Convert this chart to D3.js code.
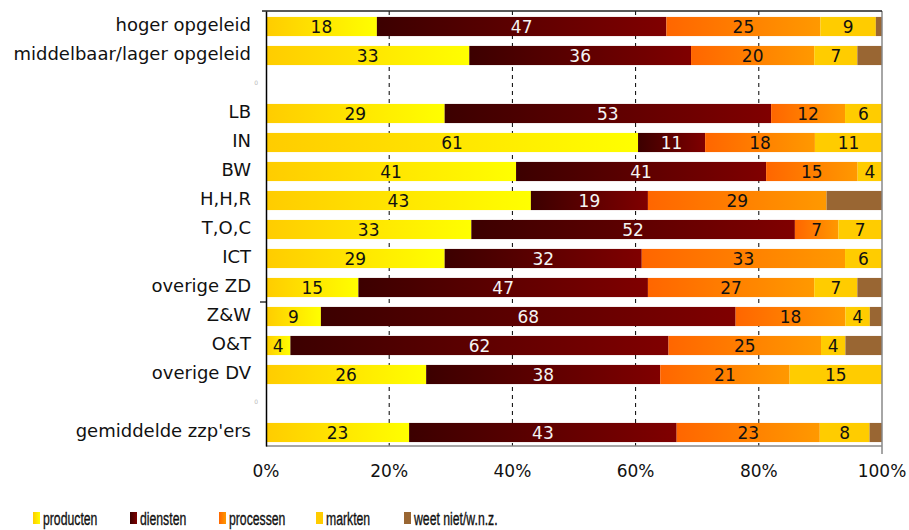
<!DOCTYPE html>
<html lang="nl">
<head>
<meta charset="UTF-8">
<script src="https://cdn.jsdelivr.net/npm/d3@7"></script>
<style>
  body { margin: 0; background: #fff; }
  svg { display: block; }
</style>
</head>
<body>
<svg id="chart" width="909" height="530"></svg>
<script>
// data
const categories = ["hoger opgeleid", "middelbaar/lager opgeleid", "0",
  "LB", "IN", "BW", "H,H,R", "T,O,C", "ICT", "overige ZD",
  "Z&W", "O&T", "overige DV", "0 ", "gemiddelde zzp'ers"];
const blanks = ["0", "0 "];
const seriesNames = ["producten", "diensten", "processen", "markten", "weet niet/w.n.z."];
const producten = [18, 33, 0, 29, 61, 41, 43, 33, 29, 15, 9, 4, 26, 0, 23];
const diensten  = [47, 36, 0, 53, 11, 41, 19, 52, 32, 47, 68, 62, 38, 0, 43];
const processen = [25, 20, 0, 12, 18, 15, 29, 7, 33, 27, 18, 25, 21, 0, 23];
const markten   = [9, 7, 0, 6, 11, 4, 0, 7, 6, 7, 4, 4, 15, 0, 8];
const weetNiet  = [1, 4, 0, 0, 0, 0, 9, 0, 0, 4, 2, 6, 0, 0, 2];
const xTicks = [0, 20, 40, 60, 80, 100];

const series = [producten, diensten, processen, markten, weetNiet];
const keys = ["p", "d", "r", "m", "w"];

const rows = categories.map((c, i) => {
  const r = { cat: c };
  keys.forEach((k, j) => r[k] = series[j][i]);
  const tot = d3.sum(keys, k => r[k]);
  r.tot = tot || 1;
  return r;
});

const svg = d3.select("#chart");
const m = { l: 266, r: 882, t: 11, b: 446 };
const font = "Verdana, 'DejaVu Sans', sans-serif";

const x = d3.scaleLinear().domain([0, 100]).range([m.l, m.r]);
const y = d3.scaleBand().domain(categories).range([m.t, m.b]).paddingInner(0.34).paddingOuter(0.17);

// gradients
const defs = svg.append("defs");
const grads = [
  ["g-p", "#ffcc00", "#ffff00"],
  ["g-d", "#3c0000", "#800000"],
  ["g-r", "#ff6600", "#ff9900"],
  ["g-m", "#ffcc00", "#ffcc00"],
  ["g-w", "#996633", "#996633"]
];
grads.forEach(g => {
  const lg = defs.append("linearGradient").attr("id", g[0])
    .attr("x1", "0%").attr("x2", "100%").attr("y1", "0%").attr("y2", "0%");
  lg.append("stop").attr("offset", "0%").attr("stop-color", g[1]);
  lg.append("stop").attr("offset", "100%").attr("stop-color", g[2]);
});

// grid
svg.append("g").selectAll("line").data(xTicks.slice(1, -1)).join("line")
  .attr("x1", d => x(d)).attr("x2", d => x(d))
  .attr("y1", m.t).attr("y2", m.b)
  .attr("stroke", "#000").attr("stroke-width", 1)
  .attr("stroke-dasharray", "4,4");

// stacked bars (normalised to 100%)
const stack = d3.stack().keys(keys).value((d, k) => d[k] / d.tot * 100);
const stacked = stack(rows.filter(r => !blanks.includes(r.cat)));

const layer = svg.append("g").selectAll("g").data(stacked).join("g")
  .attr("fill", (d, i) => `url(#${grads[i][0]})`);

layer.selectAll("rect").data(d => d).join("rect")
  .attr("x", d => x(d[0]))
  .attr("width", d => Math.max(0, x(d[1]) - x(d[0])))
  .attr("y", d => y(d.data.cat) + 1)
  .attr("height", y.bandwidth());

// value labels
const lbl = svg.append("g")
  .attr("font-family", font)
  .attr("font-size", 17)
  .attr("text-anchor", "middle");
stacked.forEach((s, i) => {
  if (keys[i] === "w") return;
  lbl.selectAll(null).data(s.filter(d => d.data[keys[i]] > 0)).join("text")
    .attr("x", d => (x(d[0]) + x(d[1])) / 2)
    .attr("y", d => y(d.data.cat) + 1 + y.bandwidth() / 2)
    .attr("dy", "0.37em")
    .attr("fill", keys[i] === "d" ? "#f4f4f4" : "#111")
    .text(d => d.data[keys[i]]);
});

// frame
svg.append("line").attr("x1", m.r).attr("x2", m.r).attr("y1", m.t).attr("y2", m.b + 8)
  .attr("stroke", "#888").attr("stroke-width", 1.5);
svg.append("line").attr("x1", m.l).attr("x2", m.r).attr("y1", m.b).attr("y2", m.b)
  .attr("stroke", "#888").attr("stroke-width", 1.5);
svg.append("line").attr("x1", m.l - 4).attr("x2", m.r).attr("y1", m.t).attr("y2", m.t)
  .attr("stroke", "#222").attr("stroke-width", 1.5);

// y axis
const yAxis = svg.append("g").attr("transform", `translate(${m.l},0)`)
  .call(d3.axisLeft(y).tickSize(0).tickPadding(15));
yAxis.select(".domain").attr("stroke", "#000").attr("stroke-width", 1.5);
yAxis.selectAll("text")
  .attr("font-family", font)
  .attr("font-size", 18).attr("fill", "#111")
  .filter(d => blanks.includes(d))
  .attr("font-size", 6).attr("fill", "#bbb").attr("dx", 7).text("0");
// group separator tick
const sepY = (y("overige ZD") + y.bandwidth() + y("Z&W")) / 2 + 1;
svg.append("line").attr("x1", m.l - 6).attr("x2", m.l).attr("y1", sepY).attr("y2", sepY)
  .attr("stroke", "#000").attr("stroke-width", 1.2);

// x axis labels
svg.append("g").selectAll("text").data(xTicks).join("text")
  .attr("x", d => x(d)).attr("y", 477)
  .attr("text-anchor", "middle")
  .attr("font-family", font)
  .attr("font-size", 17).attr("fill", "#111")
  .text(d => d + "%");

// legend
const legX = [33, 130, 219, 316, 404];
const leg = svg.append("g").selectAll("g").data(seriesNames).join("g")
  .attr("transform", (d, i) => `translate(${legX[i]},512)`);
leg.append("rect").attr("width", 7).attr("height", 12)
  .attr("fill", (d, i) => `url(#${grads[i][0]})`);
leg.append("text")
  .attr("transform", "translate(10,12.5) scale(0.68,1)")
  .attr("font-family", "'Liberation Sans', Arial, sans-serif")
  .attr("font-size", 18).attr("fill", "#111")
  .attr("stroke", "#111").attr("stroke-width", 0.35)
  .text(d => d);
</script>
</body>
</html>
